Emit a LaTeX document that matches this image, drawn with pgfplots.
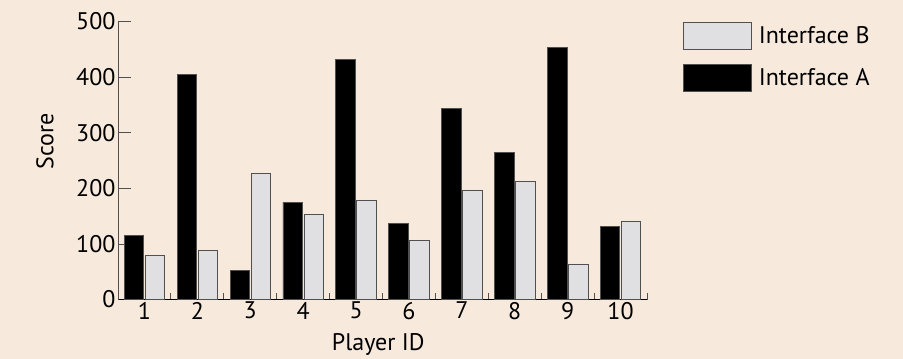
\documentclass[border=0pt]{standalone}
\usepackage{pgfplots}
\pgfplotsset{compat=1.18}
\usepackage{fontspec}
\setmainfont{PT Sans}
\definecolor{bg}{HTML}{F7E9DB}
\definecolor{lightbar}{HTML}{E0E0E2}
\definecolor{edge}{HTML}{505050}
\newcommand{\chartfont}{\fontsize{24bp}{28bp}\selectfont}
\begin{document}
\begin{tikzpicture}
\fill[bg] (-118bp,-59.5bp) rectangle (785bp,299.5bp);
\begin{axis}[
  scale only axis, width=529bp, height=278bp,
  at={(0,0)}, anchor=south west,
  xmin=0.5, xmax=10.5, ymin=0, ymax=500,
  axis x line*=bottom, axis y line*=left,
  x axis line style={-, black, line width=0.9bp},
  y axis line style={-, edge, line width=0.9bp},
  ybar=1.5bp, bar width=19.5bp,
  xtick={1,2,...,10}, ytick={0,100,...,500},
  minor xtick={1.5,2.5,...,10.5},
  tick align=inside,
  major tick length=13bp, minor tick length=6bp,
  major x tick style={draw=none},
  minor x tick style={edge, line width=0.8bp},
  major y tick style={edge, line width=0.8bp},
  /pgf/number format/assume math mode=true,
  tick label style={font=\chartfont, black},
  xticklabel style={yshift=1bp},
  yticklabel style={xshift=1bp},
  label style={font=\chartfont, black},
  xlabel={Player ID}, ylabel={Score},
  xlabel style={at={(axis description cs:0.492,-0.16)}, anchor=center},
  ylabel style={at={(axis description cs:-0.138,0.57)}, anchor=center},
  legend style={at={(axis description cs:1.068,1)}, anchor=north west,
    draw=none, fill=none, inner sep=0pt, outer sep=0pt,
    row sep=13.7bp, column sep=7bp, font=\chartfont,
    nodes={inner sep=0pt}},
  legend cell align=left, reverse legend,
  legbox/.style={legend image code/.code={\draw[##1] (0bp,-13.8bp) rectangle (68bp,13.8bp);}},
]
\addplot[fill=black, draw=edge, line width=0.8bp, legbox] coordinates {
(1,115) (2,405) (3,52) (4,175) (5,432) (6,136) (7,343) (8,265) (9,454) (10,132)};
\addlegendentry{Interface A}
\addplot[fill=lightbar, draw=edge, line width=0.8bp, legbox] coordinates {
(1,79) (2,88) (3,227) (4,153) (5,178) (6,107) (7,197) (8,213) (9,64) (10,141)};
\addlegendentry{Interface B}
\end{axis}
\end{tikzpicture}
\end{document}
